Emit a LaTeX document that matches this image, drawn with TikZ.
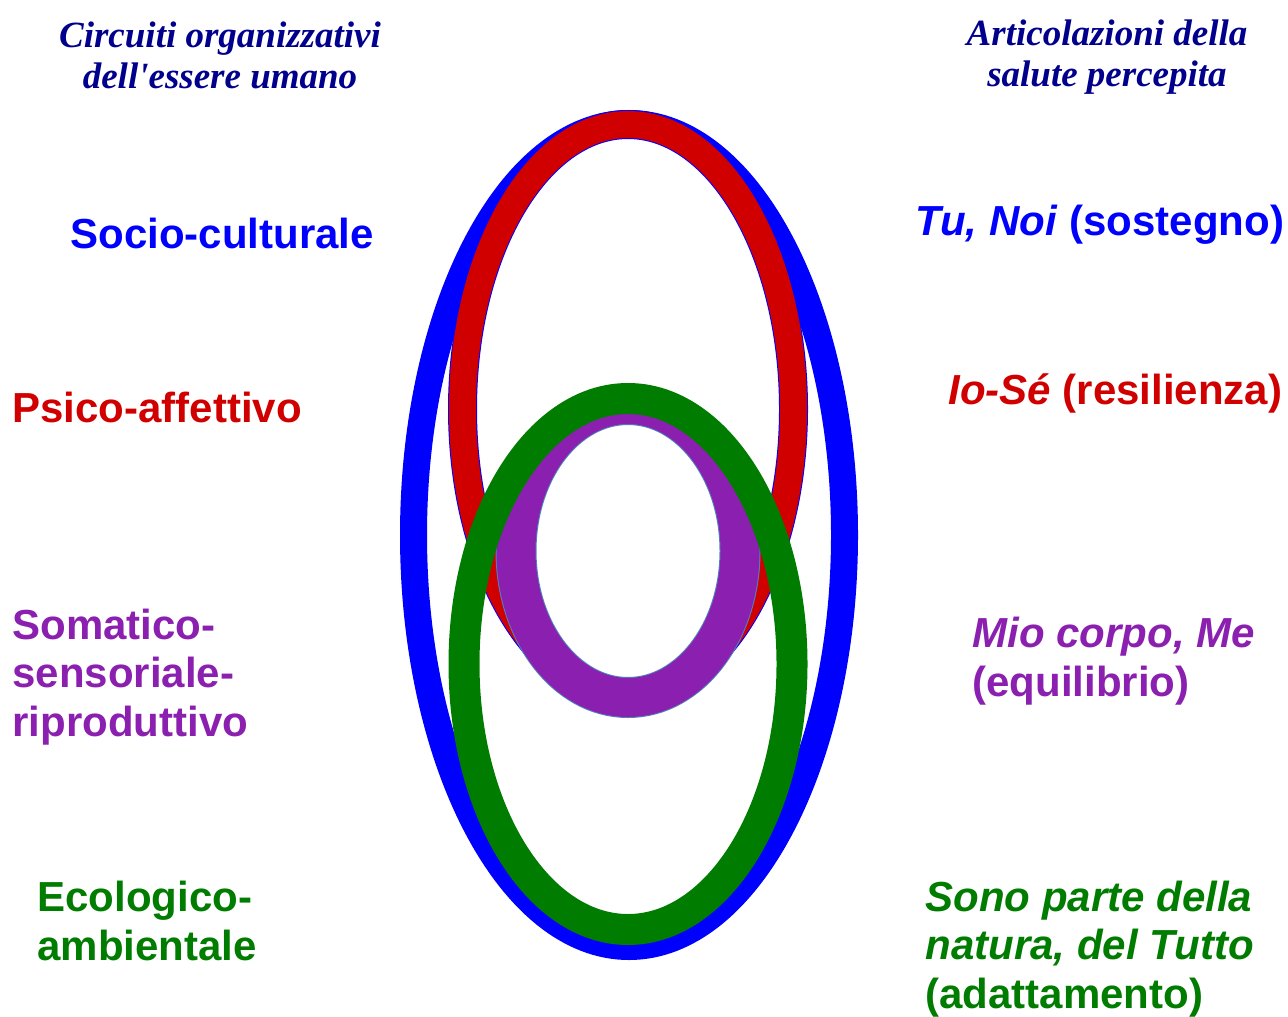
\documentclass[tikz,border=0pt]{standalone}
\usepackage{fontspec}
\setmainfont{Liberation Sans}
\newfontfamily\titlefont{Liberation Serif}

\definecolor{ringblue}{RGB}{0,0,255}
\definecolor{ringred}{RGB}{208,0,0}
\definecolor{ringgreen}{RGB}{0,124,0}
\definecolor{ringpurple}{RGB}{139,32,176}
\definecolor{edgesteel}{RGB}{80,130,190}
\definecolor{titlenavy}{RGB}{0,0,140}

\begin{document}
\begin{tikzpicture}[%
    x=0.5pt,
    y=-0.5pt,
    title/.style={font=\titlefont\bfseries\itshape\fontsize{18.5}{20.5}\selectfont,
        text=titlenavy, align=center, inner sep=0},
    circuit/.style={font=\bfseries\fontsize{21}{24.3}\selectfont,
        align=left, inner sep=0, anchor=west},
    voice/.style={circuit}
    ]

    \useasboundingbox (0,0) rectangle (1288,1016);

    \draw[ringblue, line width=13.5pt] (629,535) ellipse [x radius=215.5, y radius=411.5];
    \draw[ringblue, line width=0.5pt, double=ringred, double distance=13.5pt]
        (628,409) ellipse [x radius=165.5, y radius=284.5];
    \draw[edgesteel, line width=0.5pt, double=ringpurple, double distance=19.5pt]
        (628,551) ellipse [x radius=112, y radius=146.5];
    \draw[ringgreen, line width=15.5pt] (628,664) ellipse [x radius=164, y radius=265.5];

    \node[title] (lefttitle) at (220,55) {Circuiti organizzativi\\dell'essere umano};
    \node[title] (righttitle) at (1107,57) {Articolazioni della\\salute percepita};

    \node[circuit, text=ringblue] (socio) at (70,233) {Socio-culturale};
    \node[circuit, text=ringred] (psico) at (12,407) {Psico-affettivo};
    \node[circuit, text=ringpurple] (somatico) at (12,677) {Somatico-\\sensoriale-\\riproduttivo};
    \node[circuit, text=ringgreen] (ecologico) at (37,921) {Ecologico-\\ambientale};

    \node[voice, text=ringblue] (tunoi) at (915,225) {\textit{Tu, Noi} (sostegno)};
    \node[voice, text=ringred] (iose) at (948,393) {\textit{Io-Sé} (resilienza)};
    \node[voice, text=ringpurple] (miocorpo) at (972,661) {\textit{Mio corpo, Me}\\(equilibrio)};
    \node[voice, text=ringgreen] (sonoparte) at (925,949) {\textit{Sono parte della}\\\textit{natura, del Tutto}\\(adattamento)};

\end{tikzpicture}
\end{document}
